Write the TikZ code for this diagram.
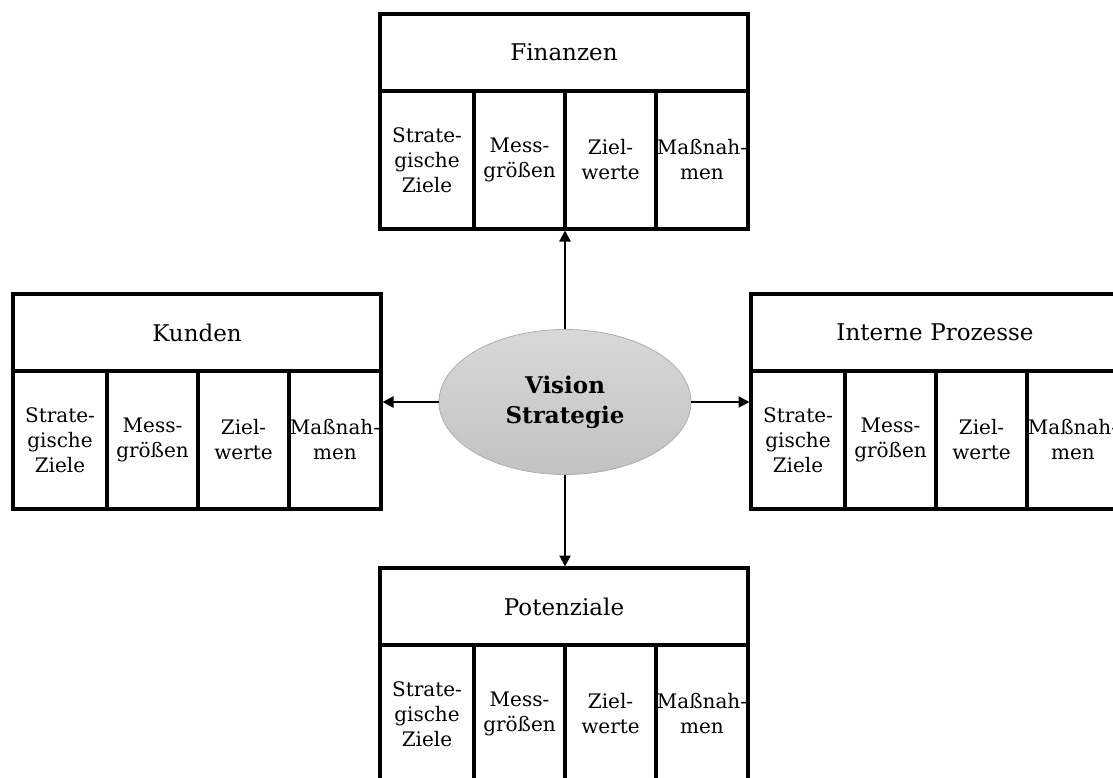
\documentclass[tikz,border=0pt]{standalone}
\usepackage{fontspec}
\setmainfont{DejaVu Serif}
\usetikzlibrary{shapes.geometric,arrows.meta}

\tikzset{
  frame/.style={draw=black, line width=4pt, inner sep=0pt, outer sep=0pt, fill=white},
  head/.style={frame, minimum width=368, minimum height=77, text width=360,
    align=center, font=\fontsize{23}{28}\selectfont},
  cell/.style={frame, minimum height=138, text width=86, align=center,
    font=\fontsize{20}{25}\selectfont},
  hub/.style={ellipse, draw={rgb,255:red,175;green,175;blue,175}, line width=0.8pt,
    top color={rgb,255:red,216;green,216;blue,216},
    bottom color={rgb,255:red,194;green,194;blue,194},
    minimum width=252, minimum height=145, inner sep=0pt, align=center,
    font=\fontsize{23}{30}\selectfont\bfseries},
  conn/.style={line width=2.2pt, -{Triangle[length=11pt,width=11pt]}, shorten >=1.5pt}
}

% a centred line that may run wider than its column
\newcommand\wideline[1]{\makebox[\linewidth][c]{#1}}

% One perspective: title bar with four columns underneath
% #1 name prefix, #2/#3 top-left corner, #4 title
\newcommand\bscperspective[4]{%
  \node[head, anchor=north west] (#1h) at (#2,#3) {#4};
  \node[cell, minimum width=94, anchor=north west] (#1a) at (#1h.south west) {Strate-\\gische\\Ziele};
  \node[cell, minimum width=91, anchor=north west] (#1b) at (#1a.north east) {Mess-\\größen};
  \node[cell, minimum width=91, anchor=north west] (#1c) at (#1b.north east) {Ziel-\\werte};
  \node[cell, minimum width=92, anchor=north west] (#1d) at (#1c.north east) {\wideline{Maßnah-}\\men};
}

\begin{document}
\begin{tikzpicture}[x=1pt,y=-1pt]
  \useasboundingbox (0,0) rectangle (1113,778);

  \bscperspective{fi}{380}{14}{Finanzen}
  \bscperspective{ku}{13}{294}{Kunden}
  \bscperspective{ip}{751}{294}{Interne Prozesse}
  \bscperspective{po}{380}{568}{Potenziale}

  \node[hub] (vs) at (565,402) {Vision\\Strategie};

  \draw[conn] (vs.north) -- (vs.north |- fib.south);
  \draw[conn] (vs.south) -- (vs.south |- poh.north);
  \draw[conn] (vs.west) -- (vs.west -| kud.east);
  \draw[conn] (vs.east) -- (vs.east -| ipa.west);
\end{tikzpicture}
\end{document}
